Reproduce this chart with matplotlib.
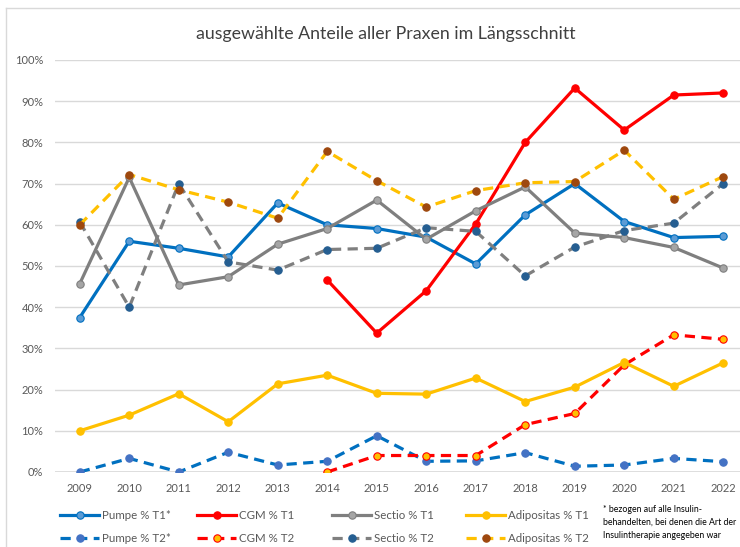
import matplotlib
matplotlib.use("Agg")
import matplotlib.pyplot as plt
import numpy as np
from matplotlib.lines import Line2D

plt.rcParams['font.family'] = ['Lato', 'DejaVu Sans']

years = [2009, 2010, 2011, 2012, 2013, 2014, 2015, 2016, 2017, 2018, 2019, 2020, 2021, 2022]
cgm_years = [2014, 2015, 2016, 2017, 2018, 2019, 2020, 2021, 2022]

pumpe_t1 = [37.5, 56.0, 54.3, 52.2, 65.3, 60.0, 59.1, 57.0, 50.5, 62.4, 70.0, 60.8, 56.9, 57.2]
cgm_t1 = [46.6, 33.7, 44.0, 60.2, 80.0, 93.2, 83.0, 91.5, 92.0]
sectio_t1 = [45.7, 71.5, 45.4, 47.4, 55.3, 59.1, 66.0, 56.5, 63.4, 69.2, 58.0, 56.9, 54.5, 49.5]
adipo_t1 = [10.0, 13.8, 19.0, 12.2, 21.4, 23.5, 19.1, 18.9, 22.8, 17.1, 20.6, 26.6, 20.8, 26.5]

pumpe_t2 = [0.0, 3.3, 0.0, 4.8, 1.7, 2.6, 8.8, 2.6, 2.7, 4.7, 1.4, 1.7, 3.3, 2.5]
cgm_t2 = [0.0, 4.0, 4.0, 4.0, 11.5, 14.2, 26.0, 33.3, 32.2]
sectio_t2 = [60.7, 40.0, 70.0, 51.0, 49.0, 54.0, 54.3, 59.3, 58.4, 47.6, 54.6, 58.6, 60.4, 70.0]
adipo_t2 = [60.0, 72.2, 68.5, 65.5, 61.6, 77.8, 70.7, 64.3, 68.3, 70.2, 70.5, 78.1, 66.2, 71.7]

yticks = [0, 10, 20, 30, 40, 50, 60, 70, 80, 90, 100]

fig = plt.figure(figsize=(7.4, 5.47), dpi=100)
W, H = 740, 547
ax = fig.add_axes([55 / W, 1 - 472 / H, (748 - 55) / W, (472 - 60) / H])

x = np.arange(len(years))
xc = np.array([years.index(y) for y in cgm_years])

lw = 2.3
ms = 5.3
dash = (3.2, 2.0)

series = [
    ("Pumpe % T1*", x, pumpe_t1, '#0070C0', '#5B9BD5', '#0070C0', '-'),
    ("Pumpe % T2*", x, pumpe_t2, '#0070C0', '#4472C4', '#4472C4', '--'),
    ("CGM % T1", xc, cgm_t1, '#FF0000', '#FF0000', '#FF0000', '-'),
    ("CGM % T2", xc, cgm_t2, '#FF0000', '#FFC000', '#FF0000', '--'),
    ("Sectio % T1", x, sectio_t1, '#7F7F7F', '#A5A5A5', '#7F7F7F', '-'),
    ("Sectio % T2", x, sectio_t2, '#7F7F7F', '#255E91', '#255E91', '--'),
    ("Adipositas % T1", x, adipo_t1, '#FFC000', '#FFC000', '#FFC000', '-'),
    ("Adipositas % T2", x, adipo_t2, '#FFC000', '#9E480E', '#9E480E', '--'),
]

handles = []
for name, xs, ys, lc, mfc, mec, ls in series:
    kw = dict(color=lc, lw=lw, marker='o', ms=ms, mfc=mfc, mec=mec, mew=0.8,
              zorder=3, label=name)
    if ls == '--':
        kw['dashes'] = dash
    l, = ax.plot(xs, ys, **kw)
    handles.append(l)

ax.set_xlim(-0.5, len(years) - 0.5)
ax.set_ylim(0, 100)
ax.set_yticks(yticks)
ax.set_yticklabels([f"{v}%" for v in yticks])
ax.set_xticks(x)
ax.set_xticklabels([str(y) for y in years])
ax.grid(axis='y', color='#D9D9D9', lw=1.0, zorder=0)
ax.set_axisbelow(True)
for s in ax.spines.values():
    s.set_visible(False)
ax.tick_params(axis='both', length=0, labelsize=8, labelcolor='#595959')
ax.tick_params(axis='y', pad=8.5)
ax.tick_params(axis='x', pad=8)
ax.axhline(0, color='#D9D9D9', lw=1.2, zorder=1)

fig.text(386 / W, 1 - 34 / H, "ausgewählte Anteile aller Praxen im Längsschnitt",
         ha='center', va='center', fontsize=12.8, color='#404040')

# legend: four columns, each with T1 (top) and T2 (bottom)
col_x = [60, 197, 332, 466]
for i, cx in enumerate(col_x):
    leg = fig.legend(handles=handles[2 * i:2 * i + 2], loc='upper left',
                     bbox_to_anchor=(cx / W, 1 - 510 / H), frameon=False,
                     fontsize=8.3, handlelength=3.4, handletextpad=0.25,
                     labelspacing=1.05, borderpad=0, borderaxespad=0)
    for t in leg.get_texts():
        t.set_color('#595959')

fig.text(603 / W, 1 - 505 / H,
         "* bezogen auf alle Insulin-\nbehandelten, bei denen die Art der\nInsulintherapie angegeben war",
         ha='left', va='top', fontsize=6.3, color='#000000', linespacing=1.55)

fig.add_artist(Line2D([6 / W, 6 / W], [0, 1 - 8 / H], color='#D9D9D9', lw=1.0))
fig.add_artist(Line2D([6 / W, 1], [1 - 8 / H, 1 - 8 / H], color='#D9D9D9', lw=1.0))

fig.savefig("out.png", dpi=100)
